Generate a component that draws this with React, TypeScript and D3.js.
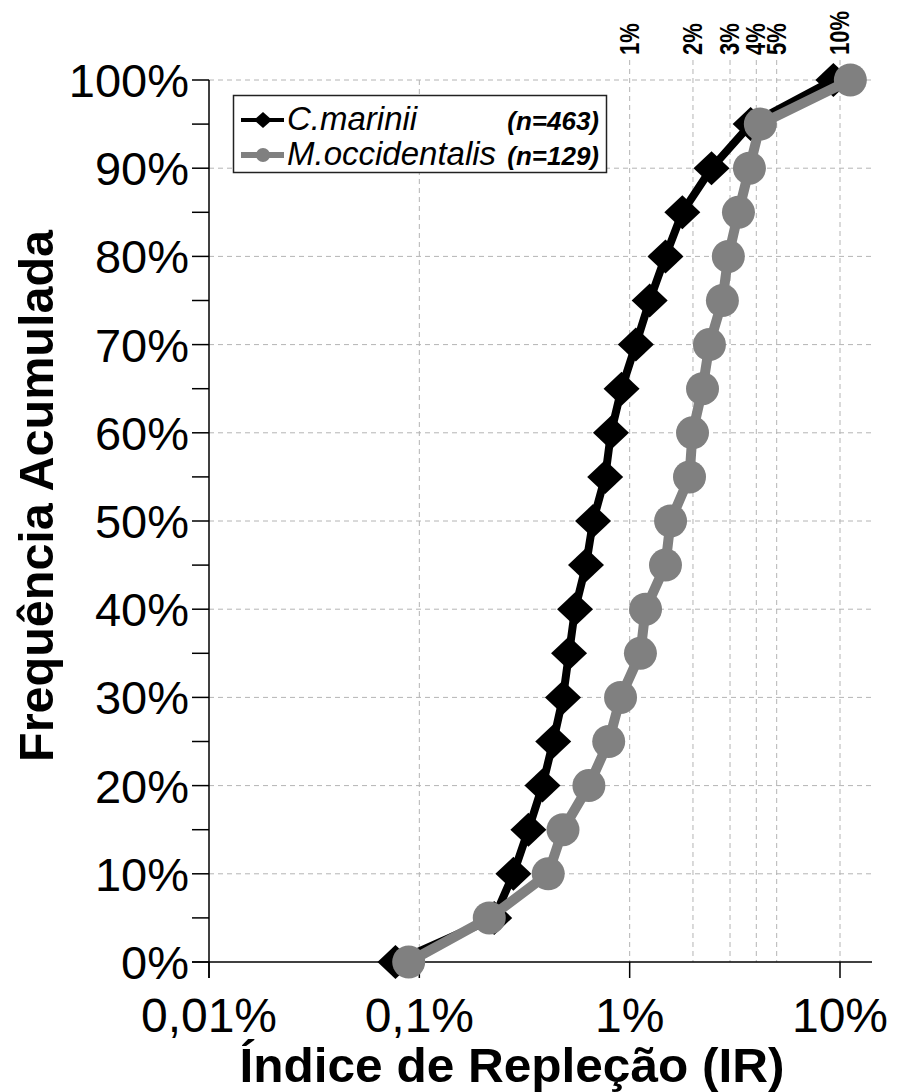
import { useEffect, useRef } from "react";
import * as d3 from "d3";

// cumulative frequency (%) for each point
const freqSteps = [0, 5, 10, 15, 20, 25, 30, 35, 40, 45, 50, 55, 60, 65, 70, 75, 80, 85, 90, 95, 100];

// índice de repleção (%)
const cMarinii = [
  0.077, 0.227, 0.28, 0.33, 0.385, 0.433, 0.482, 0.515, 0.55, 0.62, 0.67, 0.765,
  0.815, 0.915, 1.07, 1.245, 1.48, 1.78, 2.45, 3.76, 9.3,
];
const mOccidentalis = [
  0.089, 0.215, 0.41, 0.482, 0.64, 0.795, 0.905, 1.125, 1.19, 1.48, 1.565, 1.925,
  1.99, 2.22, 2.395, 2.76, 2.945, 3.29, 3.71, 4.18, 11.2,
];

const xTicks = [0.01, 0.1, 1, 10];
const refLines = [1, 2, 3, 4, 5, 10];
const yTicks = [0, 10, 20, 30, 40, 50, 60, 70, 80, 90, 100];
const yMinorTicks = [5, 15, 25, 35, 45, 55, 65, 75, 85, 95];

const seriesNames = ["C.marinii", "M.occidentalis"];
const seriesN = ["(n=463)", "(n=129)"];

const W = 902;
const H = 1092;
const FONT = "'Liberation Sans', Arial, sans-serif";

const App = () => {
  const svgRef = useRef<SVGSVGElement | null>(null);

  useEffect(() => {
    if (!svgRef.current) return;
    const svg = d3.select(svgRef.current);
    svg.selectAll("*").remove();

    const x = d3.scaleLog().domain([0.01, 10]).range([209, 840]);
    const y = d3.scaleLinear().domain([0, 100]).range([962, 80]);
    const xLeft = x(0.01);
    const xRight = 872;
    const y0 = y(0);

    svg.append("rect").attr("width", W).attr("height", H).attr("fill", "#fff");

    // grid
    const grid = svg.append("g").attr("stroke", "#b4b4b4").attr("stroke-dasharray", "5,4").attr("stroke-width", 1);
    grid
      .selectAll(".hgrid")
      .data(yTicks.filter((d) => d > 0))
      .enter()
      .append("line")
      .attr("x1", xLeft)
      .attr("x2", xRight)
      .attr("y1", (d) => y(d))
      .attr("y2", (d) => y(d));
    grid
      .append("line")
      .attr("x1", x(0.1))
      .attr("x2", x(0.1))
      .attr("y1", y(100))
      .attr("y2", y0);
    grid
      .selectAll(".vgrid")
      .data(refLines)
      .enter()
      .append("line")
      .attr("x1", (d) => x(d))
      .attr("x2", (d) => x(d))
      .attr("y1", 60)
      .attr("y2", y0);

    // reference labels on top
    svg
      .selectAll(".ref-label")
      .data(refLines)
      .enter()
      .append("text")
      .attr("transform", (d) => `translate(${x(d) + 9},55) rotate(-90) scale(1,1.25)`)
      .attr("font-family", FONT)
      .attr("font-weight", "bold")
      .attr("font-size", 22)
      .text((d) => `${d}%`);

    // axes
    const axes = svg.append("g").attr("stroke", "#000").attr("stroke-width", 1.5);
    axes.append("line").attr("x1", xLeft - 17).attr("x2", xRight).attr("y1", y0).attr("y2", y0);
    axes.append("line").attr("x1", xLeft).attr("x2", xLeft).attr("y1", y(100)).attr("y2", y0 + 16);
    axes
      .selectAll(".ytick")
      .data([...yTicks, ...yMinorTicks])
      .enter()
      .append("line")
      .attr("x1", xLeft - 17)
      .attr("x2", xLeft)
      .attr("y1", (d) => y(d))
      .attr("y2", (d) => y(d));
    axes
      .selectAll(".xtick")
      .data(xTicks)
      .enter()
      .append("line")
      .attr("x1", (d) => x(d))
      .attr("x2", (d) => x(d))
      .attr("y1", y0)
      .attr("y2", y0 + 16);

    svg
      .selectAll(".ylabel")
      .data(yTicks)
      .enter()
      .append("text")
      .attr("x", 189)
      .attr("y", (d) => y(d) + 17)
      .attr("text-anchor", "end")
      .attr("font-family", FONT)
      .attr("font-size", 47)
      .text((d) => `${d}%`);

    svg
      .selectAll(".xlabel")
      .data(xTicks)
      .enter()
      .append("text")
      .attr("x", (d) => x(d))
      .attr("y", 1032)
      .attr("text-anchor", "middle")
      .attr("font-family", FONT)
      .attr("font-size", 48)
      .text((d) => `${String(d).replace(".", ",")}%`);

    svg
      .append("text")
      .attr("x", 512)
      .attr("y", 1082)
      .attr("text-anchor", "middle")
      .attr("font-family", FONT)
      .attr("font-weight", "bold")
      .attr("font-size", 48)
      .attr("textLength", 545)
      .attr("lengthAdjust", "spacingAndGlyphs")
      .text("Índice de Repleção (IR)");

    svg
      .append("text")
      .attr("transform", `translate(53,496) rotate(-90)`)
      .attr("text-anchor", "middle")
      .attr("font-family", FONT)
      .attr("font-weight", "bold")
      .attr("font-size", 48)
      .attr("textLength", 532)
      .attr("lengthAdjust", "spacingAndGlyphs")
      .text("Frequência Acumulada");

    // series
    const line = d3
      .line<number>()
      .x((d) => x(d))
      .y((_d, i) => y(freqSteps[i]));

    const diamond = (cx: number, cy: number, rx: number, ry: number) =>
      `M${cx - rx},${cy}L${cx},${cy - ry}L${cx + rx},${cy}L${cx},${cy + ry}Z`;

    svg.append("path").attr("d", line(cMarinii)).attr("fill", "none").attr("stroke", "#000").attr("stroke-width", 8);
    svg
      .selectAll(".cm")
      .data(cMarinii)
      .enter()
      .append("path")
      .attr("d", (d, i) => diamond(x(d), y(freqSteps[i]), 18, 17))
      .attr("fill", "#000");

    svg
      .append("path")
      .attr("d", line(mOccidentalis))
      .attr("fill", "none")
      .attr("stroke", "#808080")
      .attr("stroke-width", 10);
    svg
      .selectAll(".mo")
      .data(mOccidentalis)
      .enter()
      .append("circle")
      .attr("cx", (d) => x(d))
      .attr("cy", (_d, i) => y(freqSteps[i]))
      .attr("r", 16.5)
      .attr("fill", "#808080");

    // legend
    const lg = svg.append("g");
    lg.append("rect")
      .attr("x", 233.5)
      .attr("y", 95.5)
      .attr("width", 373)
      .attr("height", 77)
      .attr("fill", "#fff")
      .attr("stroke", "#222")
      .attr("stroke-width", 1.5);
    const rows = [
      { name: seriesNames[0], n: seriesN[0], color: "#000", ly: 120, ty: 130 },
      { name: seriesNames[1], n: seriesN[1], color: "#808080", ly: 155, ty: 165 },
    ];
    rows.forEach((r, i) => {
      lg.append("line")
        .attr("x1", 241)
        .attr("x2", 284)
        .attr("y1", r.ly)
        .attr("y2", r.ly)
        .attr("stroke", r.color)
        .attr("stroke-width", i === 0 ? 4 : 6);
      if (i === 0) {
        lg.append("path").attr("d", diamond(263, r.ly, 9, 8)).attr("fill", r.color);
      } else {
        lg.append("circle").attr("cx", 263).attr("cy", r.ly).attr("r", 7).attr("fill", r.color);
      }
      lg.append("text")
        .attr("x", 287)
        .attr("y", r.ty)
        .attr("font-family", FONT)
        .attr("font-style", "italic")
        .attr("font-size", 33)
        .text(r.name);
      lg.append("text")
        .attr("x", 599)
        .attr("y", r.ty)
        .attr("text-anchor", "end")
        .attr("font-family", FONT)
        .attr("font-style", "italic")
        .attr("font-weight", "bold")
        .attr("font-size", 26)
        .text(r.n);
    });
  }, []);

  return (
    <svg
      ref={svgRef}
      width={W}
      height={H}
      style={{ position: "absolute", left: 0, top: 0, display: "block" }}
    />
  );
};

export default App;
